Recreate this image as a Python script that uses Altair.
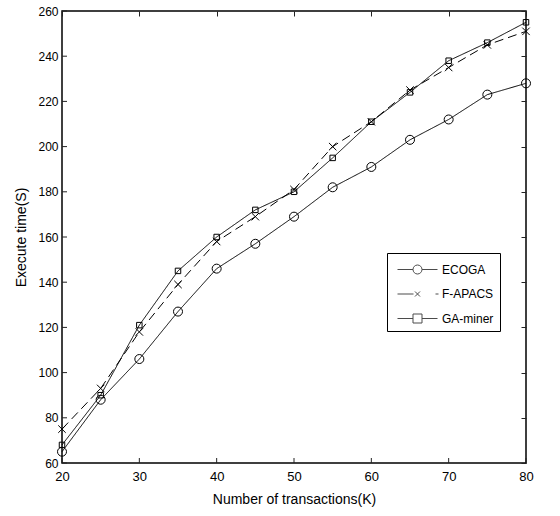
import altair as alt
import pandas as pd

# ---- data ----
x_vals = [20, 25, 30, 35, 40, 45, 50, 55, 60, 65, 70, 75, 80]
ecoga = [65, 88, 106, 127, 146, 157, 169, 182, 191, 203, 212, 223, 228]
fapacs = [75, 93, 118, 139, 158, 169, 181, 200, 211, 225, 235, 245, 251]
gaminer = [68, 90, 121, 145, 160, 172, 180, 195, 211, 224, 238, 246, 255]
series = ["ECOGA", "F-APACS", "GA-miner"]
x_ticks = [20, 30, 40, 50, 60, 70, 80]
y_ticks = [60, 80, 100, 120, 140, 160, 180, 200, 220, 240, 260]

rows = []
for name, vals in zip(series, [ecoga, fapacs, gaminer]):
    for xv, yv in zip(x_vals, vals):
        rows.append({"x": xv, "y": yv, "series": name})
df = pd.DataFrame(rows)
xt_df = pd.DataFrame({"t": x_ticks})
yt_df = pd.DataFrame({"t": y_ticks})

W, H = 464, 452
TICK = 5
FONT = "Liberation Sans"

xs = alt.Scale(domain=[20, 80], nice=False, zero=False)
ys = alt.Scale(domain=[60, 260], nice=False, zero=False)

marker_shapes = ["circle", "M-1,-1L1,1M-1,1L1,-1", "square"]
marker_sizes = [81, 30, 100]
dash_range = [[1, 0], [9, 5], [1, 0]]
legend_paths = [
    "M-2,0H-0.45M0.45,0H2M-0.45,0A0.45,0.45,0,1,1,0.45,0A0.45,0.45,0,1,1,-0.45,0",
    "M-2,0H-0.4M1.8,0H2.1M-0.25,-0.25L0.25,0.25M-0.25,0.25L0.25,-0.25",
    "M-2,0H-0.45M0.45,0H2M-0.45,-0.45H0.45V0.45H-0.45Z",
]


def tick_axis(orient, values, offset):
    return alt.Axis(orient=orient, values=values, title=None, labels=False,
                    ticks=True, tickSize=TICK, tickWidth=1, tickColor="#222222",
                    offset=offset, domain=False, grid=False, zindex=1)


base = alt.Chart(df)

lines = base.mark_line(color="black", strokeWidth=1).encode(
    x=alt.X("x:Q", scale=xs, axis=alt.Axis(
        orient="bottom", values=x_ticks, title="Number of transactions(K)",
        ticks=False, labelPadding=7, labelFontSize=13, titlePadding=9,
        labelFlush=False, domain=False, grid=False)),
    y=alt.Y("y:Q", scale=ys, axis=alt.Axis(
        orient="left", values=y_ticks, title="Execute time(S)",
        ticks=False, labelPadding=4, titlePadding=9, labelFlush=False,
        domain=False, grid=False)),
    detail="series:N",
    strokeDash=alt.StrokeDash("series:N", scale=alt.Scale(domain=series, range=dash_range), legend=None),
)

points = base.mark_point(filled=False, color="black", strokeWidth=1, opacity=1).encode(
    x=alt.X("x:Q", scale=xs, axis=None),
    y=alt.Y("y:Q", scale=ys, axis=None),
    shape=alt.Shape("series:N", scale=alt.Scale(domain=series, range=marker_shapes), legend=None),
    size=alt.Size("series:N", scale=alt.Scale(domain=series, range=marker_sizes), legend=None),
)

# inward ticks along the bottom and left edges
x_tick_marks = alt.Chart(xt_df).mark_rule(color="#222222", strokeWidth=1).encode(
    x=alt.X("t:Q", scale=xs, axis=None),
    y=alt.value(H), y2=alt.value(H - TICK),
)
y_tick_marks = alt.Chart(yt_df).mark_rule(color="#222222", strokeWidth=1).encode(
    y=alt.Y("t:Q", scale=ys, axis=None),
    x=alt.value(0), x2=alt.value(TICK),
)

# legend; its axes carry the inward ticks along the top and right edges
legend_layer = base.transform_filter("false").mark_point(
    filled=False, color="black", strokeWidth=1
).encode(
    x=alt.X("x:Q", scale=xs, axis=tick_axis("bottom", x_ticks, -H)),
    y=alt.Y("y:Q", scale=ys, axis=tick_axis("left", y_ticks, -W)),
    shape=alt.Shape("series:N", scale=alt.Scale(domain=series, range=legend_paths),
                    legend=alt.Legend(
                        title=None, orient="none", legendX=325, legendY=242,
                        padding=6, symbolOffset=14, labelOffset=14, rowPadding=7.5,
                        symbolSize=400, symbolStrokeWidth=1, symbolStrokeColor="black",
                        symbolFillColor="transparent", symbolType="circle",
                        strokeColor="black", fillColor="white",
                        labelFont=FONT, labelFontSize=12, labelColor="black")),
)

chart = alt.layer(lines, points, x_tick_marks, y_tick_marks, legend_layer).resolve_scale(
    shape="independent", size="independent"
).resolve_axis(
    x="independent", y="independent"
).properties(
    width=W, height=H,
    autosize=alt.AutoSizeParams(type="none"),
    padding={"left": 62, "top": 11, "right": 34, "bottom": 53},
    background="white",
).configure_view(
    stroke="black", strokeWidth=1.5
).configure_axis(
    labelFont=FONT, titleFont=FONT, labelFontSize=12, titleFontSize=14,
    labelColor="black", titleColor="black",
    titleFontWeight="normal",
)

chart.save("out.html", embed_options={"renderer": "svg", "actions": False})
